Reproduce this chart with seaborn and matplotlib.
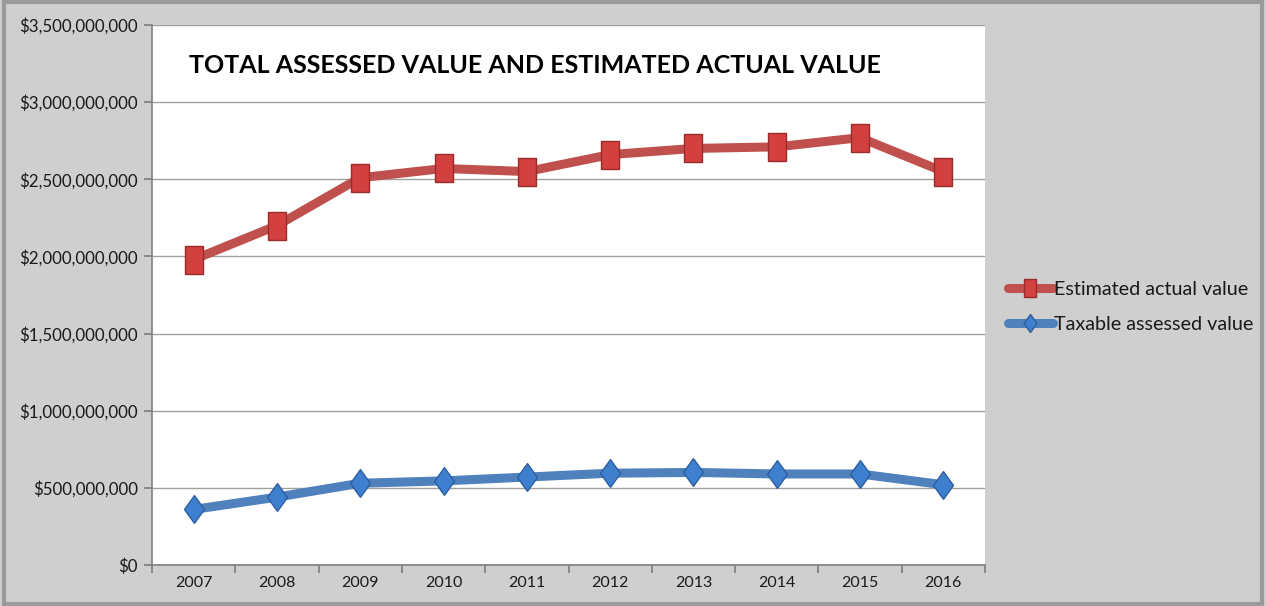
import matplotlib
matplotlib.use("Agg")
import matplotlib.pyplot as plt
import matplotlib.ticker as mticker
from matplotlib.patches import Rectangle
from matplotlib.lines import Line2D
import seaborn as sns
import pandas as pd
import numpy as np

years = ["2007", "2008", "2009", "2010", "2011", "2012", "2013", "2014", "2015", "2016"]
estimated_actual = [1.98e9, 2.20e9, 2.51e9, 2.57e9, 2.55e9, 2.66e9, 2.70e9, 2.71e9, 2.77e9, 2.55e9]
taxable_assessed = [0.36e9, 0.44e9, 0.53e9, 0.545e9, 0.57e9, 0.595e9, 0.60e9, 0.59e9, 0.59e9, 0.52e9]
series_names = ["Estimated actual value", "Taxable assessed value"]
y_ticks = [0, 5e8, 1e9, 1.5e9, 2e9, 2.5e9, 3e9, 3.5e9]
title = "TOTAL ASSESSED VALUE AND ESTIMATED ACTUAL VALUE"

sns.set_theme(style="white")
plt.rcParams["font.family"] = ["Lato", "DejaVu Sans"]

df = pd.DataFrame({
    "pos": list(range(len(years))) * 2,
    "value": estimated_actual + taxable_assessed,
    "series": [series_names[0]] * len(years) + [series_names[1]] * len(years),
})

bg = "#cfcfcf"
fig = plt.figure(figsize=(12.66, 6.06), dpi=100, facecolor=bg)
ax = fig.add_axes([152 / 1266, 41 / 606, 833 / 1266, 540 / 606])
ax.set_facecolor("white")

rect_marker = [(-0.64, -1), (0.64, -1), (0.64, 1), (-0.64, 1), (-0.64, -1)]
diamond_marker = [(0, -1), (0.72, 0), (0, 1), (-0.72, 0), (0, -1)]
palette = {series_names[0]: "#c0504d", series_names[1]: "#4f81bd"}
sns.lineplot(data=df, x="pos", y="value", hue="series", palette=palette,
             linewidth=6.5, ax=ax, legend=False, sort=False)

ax.plot(range(len(years)), estimated_actual, linestyle="none", marker=rect_marker,
        markersize=20, markerfacecolor="#d2403f", markeredgecolor="#9a2b2a",
        markeredgewidth=1, zorder=5)
ax.plot(range(len(years)), taxable_assessed, linestyle="none", marker=diamond_marker,
        markersize=20, markerfacecolor="#3e7fd0", markeredgecolor="#2d5f9e",
        markeredgewidth=1, zorder=5)

ax.set_xlim(-0.5, len(years) - 0.5)
ax.set_ylim(0, 3.5e9)
ax.set_yticks(y_ticks)
ax.yaxis.set_major_formatter(mticker.FuncFormatter(lambda v, p: f"${v:,.0f}"))
ax.set_xticks(np.arange(-0.5, len(years), 1.0))
ax.set_xticklabels([])
ax.set_xticks(range(len(years)), minor=True)
ax.set_xticklabels(years, minor=True)
ax.tick_params(axis="x", which="major", length=6, color="#808080", direction="out", bottom=True)
ax.tick_params(axis="x", which="minor", length=0, labelsize=11.5, pad=8, colors="#1a1a1a")
ax.tick_params(axis="y", length=6, color="#808080", direction="out", left=True,
               labelsize=12.2, colors="#1a1a1a", pad=4)
ax.set_xlabel("")
ax.set_ylabel("")
ax.grid(axis="y", color="#a0a0a0", linewidth=1)
ax.set_axisbelow(True)
for s in ["top", "right"]:
    ax.spines[s].set_visible(False)
for s in ["left", "bottom"]:
    ax.spines[s].set_color("#808080")
    ax.spines[s].set_linewidth(1.2)

ax.text(0.045, 0.925, title, transform=ax.transAxes, fontsize=18, fontweight="bold",
        color="black", va="center", ha="left")

handles = [
    Line2D([], [], color="#c0504d", linewidth=6.5, marker=rect_marker, markersize=13,
           markerfacecolor="#d2403f", markeredgecolor="#9a2b2a"),
    Line2D([], [], color="#4f81bd", linewidth=6.5, marker=diamond_marker, markersize=13,
           markerfacecolor="#3e7fd0", markeredgecolor="#2d5f9e"),
]
fig.legend(handles, series_names, loc="center left", bbox_to_anchor=(990 / 1266, 1 - 307 / 606),
           frameon=False, fontsize=14.2, handlelength=2.3, handletextpad=0.05,
           labelspacing=0.95, labelcolor="#1a1a1a")

fig.patches.append(Rectangle((0.003, 0.004), 0.994, 0.992, transform=fig.transFigure,
                             fill=False, edgecolor="#9a9a9a", linewidth=3))

fig.savefig("out.png", dpi=100, facecolor=bg)
